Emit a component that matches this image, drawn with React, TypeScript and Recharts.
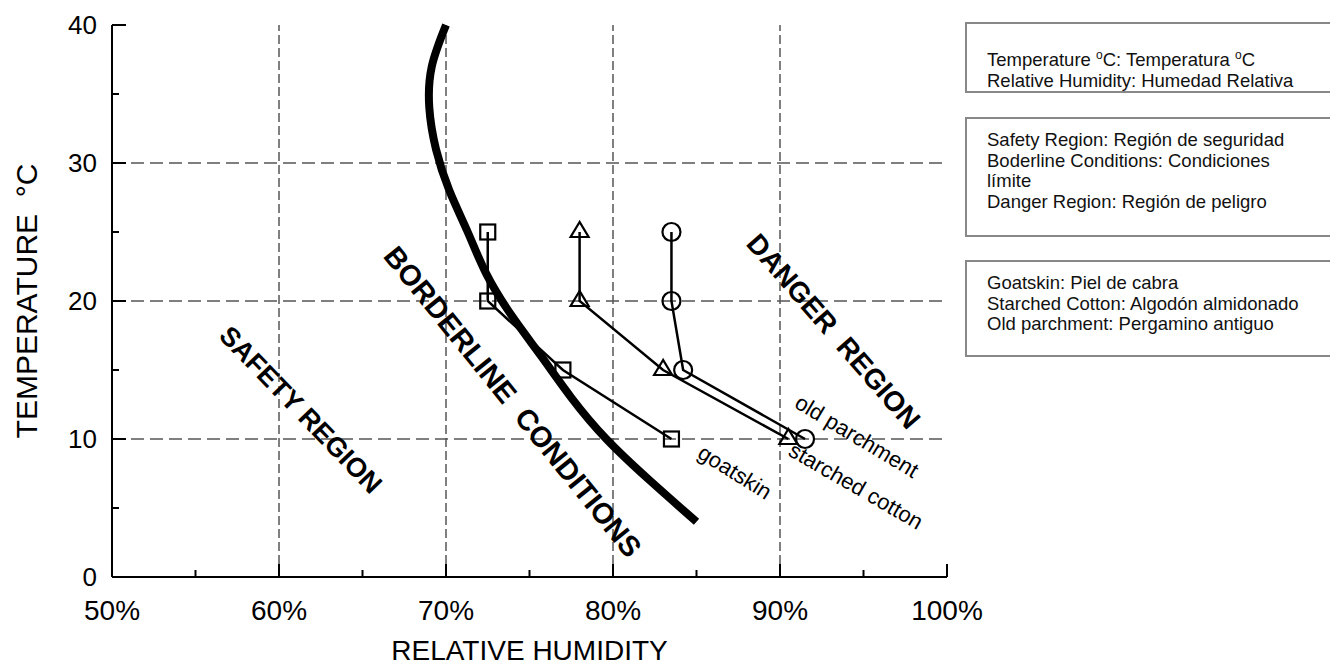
import React from 'react';
import { LineChart, Line, XAxis, YAxis, ReferenceLine, ReferenceDot } from 'recharts';

const FONT = '"Liberation Sans", Arial, Helvetica, sans-serif';

// boundary between borderline conditions and danger region (humidity % vs temperature °C), top to bottom
const boundaryHumidity = [70.0, 69.15, 69.0, 69.4, 70.2, 71.3, 72.4, 73.9, 75.7, 77.5, 79.6, 82.2, 85.0];
const boundaryTemp = [40, 37, 34, 31, 28, 25, 22, 19, 16, 13, 10, 7, 4];

const goatskinHumidity = [72.5, 72.5, 77, 83.5];
const goatskinTemp = [25, 20, 15, 10];

const cottonHumidity = [78, 78, 83, 90.5];
const cottonTemp = [25, 20, 15, 10];

const parchmentHumidity = [83.5, 83.5, 84.2, 91.5];
const parchmentTemp = [25, 20, 15, 10];

const xTicks = [50, 55, 60, 65, 70, 75, 80, 85, 90, 95, 100];
const yTicks = [0, 5, 10, 15, 20, 25, 30, 35, 40];
const gridX = [60, 70, 80, 90];
const gridY = [10, 20, 30];

// text written on the plot, anchored in data units
const annotations = [
  { text: 'SAFETY REGION', h: 61.3, t: 12.1, angle: 46, size: 27, bold: true },
  { text: 'BORDERLINE  CONDITIONS', h: 74.0, t: 12.7, angle: 51, size: 29, bold: true },
  { text: 'DANGER  REGION', h: 93.2, t: 17.8, angle: 49, size: 28, bold: true },
  { text: 'old parchment', h: 94.6, t: 10.2, angle: 31, size: 22, bold: false },
  { text: 'starched cotton', h: 94.55, t: 6.6, angle: 30, size: 22, bold: false },
  { text: 'goatskin', h: 87.3, t: 7.6, angle: 32, size: 22, bold: false },
];

const zip = (hs: number[], ts: number[]) => hs.map((h, i) => ({ h, t: ts[i] }));

const boundaryData = zip(boundaryHumidity, boundaryTemp);
const goatskinData = zip(goatskinHumidity, goatskinTemp);
const cottonData = zip(cottonHumidity, cottonTemp);
const parchmentData = zip(parchmentHumidity, parchmentTemp);

const BottomTick = ({ x, y, payload }: any) => {
  const major = payload.value % 10 === 0;
  return (
    <g>
      <line x1={x} y1={y} x2={x} y2={y - (major ? 13 : 7)} stroke="#000" strokeWidth={2} />
      {major && (
        <text x={x} y={y + 43} textAnchor="middle" fontSize={28} fontFamily={FONT} fill="#000">
          {payload.value}%
        </text>
      )}
    </g>
  );
};

const TopTick = ({ x, y, payload }: any) => {
  const major = payload.value % 10 === 0;
  return <line x1={x} y1={y} x2={x} y2={y + (major ? 13 : 7)} stroke="#000" strokeWidth={2} />;
};

const LeftTick = ({ x, y, payload }: any) => {
  const major = payload.value % 10 === 0;
  return (
    <g>
      <line x1={x} y1={y} x2={x + (major ? 14 : 7)} y2={y} stroke="#000" strokeWidth={2} />
      {major && (
        <text x={x - 15} y={y} dy="0.36em" textAnchor="end" fontSize={26} fontFamily={FONT} fill="#000">
          {payload.value}
        </text>
      )}
    </g>
  );
};

const RightTick = ({ x, y, payload }: any) => {
  const major = payload.value % 10 === 0;
  return <line x1={x} y1={y} x2={x - (major ? 14 : 7)} y2={y} stroke="#000" strokeWidth={2} />;
};

const square = (props: any) => (
  <rect key={props.index} x={props.cx - 7.5} y={props.cy - 7.5} width={15} height={15} fill="none" stroke="#000" strokeWidth={2.2} />
);

const triangle = (props: any) => {
  const { cx, cy } = props;
  return (
    <polygon
      key={props.index}
      points={`${cx},${cy - 10} ${cx - 9},${cy + 5} ${cx + 9},${cy + 5}`}
      fill="none"
      stroke="#000"
      strokeWidth={2.2}
    />
  );
};

const circle = (props: any) => (
  <circle key={props.index} cx={props.cx} cy={props.cy} r={9} fill="none" stroke="#000" strokeWidth={2.2} />
);

const rotatedText = (a: typeof annotations[number]) => (props: any) => {
  const vb = props.viewBox;
  const cx = vb.x + vb.width / 2;
  const cy = vb.y + vb.height / 2;
  return (
    <text
      x={cx}
      y={cy}
      transform={`rotate(${a.angle} ${cx} ${cy})`}
      textAnchor="middle"
      dominantBaseline="central"
      fontSize={a.size}
      fontWeight={a.bold ? 'bold' : 'normal'}
      fontFamily={FONT}
      fill="#000"
      style={{ whiteSpace: 'pre' }}
    >
      {a.text}
    </text>
  );
};

const boxStyle: React.CSSProperties = {
  position: 'absolute',
  left: 965,
  width: 420,
  boxSizing: 'border-box',
  border: '2px solid #888',
  paddingLeft: 20,
  fontSize: 18.5,
  lineHeight: '20.5px',
  color: '#111',
  whiteSpace: 'nowrap',
};

const sup = <sup style={{ fontSize: 12, verticalAlign: 7 }}>o</sup>;

export default function App() {
  return (
    <div
      style={{
        position: 'absolute',
        left: 0,
        top: 0,
        width: 1330,
        height: 668,
        overflow: 'hidden',
        background: '#fff',
        fontFamily: FONT,
      }}
    >
      <LineChart width={1000} height={668} margin={{ top: 25, right: 53, bottom: 0, left: 0 }}>
        <XAxis
          xAxisId={0}
          type="number"
          dataKey="h"
          domain={[50, 100]}
          ticks={xTicks}
          interval={0}
          height={91}
          tickSize={0}
          tickMargin={0}
          tickLine={false}
          axisLine={{ stroke: '#000', strokeWidth: 2 }}
          tick={<BottomTick />}
          label={{ value: 'RELATIVE HUMIDITY', position: 'insideBottom', offset: 8, fontSize: 28, fill: '#000', fontFamily: FONT }}
        />
        <XAxis
          xAxisId="top"
          orientation="top"
          type="number"
          dataKey="h"
          domain={[50, 100]}
          ticks={xTicks}
          interval={0}
          height={0}
          tickSize={0}
          tickMargin={0}
          tickLine={false}
          axisLine={{ stroke: '#000', strokeWidth: 2 }}
          tick={<TopTick />}
        />
        <YAxis
          yAxisId={0}
          type="number"
          domain={[0, 40]}
          ticks={yTicks}
          interval={0}
          width={112}
          tickSize={0}
          tickMargin={0}
          tickLine={false}
          axisLine={{ stroke: '#000', strokeWidth: 2 }}
          tick={<LeftTick />}
        />
        <YAxis
          yAxisId="right"
          orientation="right"
          type="number"
          domain={[0, 40]}
          ticks={yTicks}
          interval={0}
          width={0}
          tickSize={0}
          tickMargin={0}
          tickLine={false}
          axisLine={{ stroke: '#000', strokeWidth: 2 }}
          tick={<RightTick />}
        />

        {gridX.map(v => (
          <ReferenceLine key={`gx${v}`} x={v} stroke="#000" strokeWidth={1} strokeDasharray="9 4" />
        ))}
        {gridY.map(v => (
          <ReferenceLine key={`gy${v}`} y={v} stroke="#555" strokeWidth={1.5} strokeDasharray="13 6" />
        ))}

        <Line data={goatskinData} dataKey="t" type="linear" stroke="#000" strokeWidth={2.5} dot={square} activeDot={false} isAnimationActive={false} />
        <Line data={cottonData} dataKey="t" type="linear" stroke="#000" strokeWidth={2.5} dot={triangle} activeDot={false} isAnimationActive={false} />
        <Line data={parchmentData} dataKey="t" type="linear" stroke="#000" strokeWidth={2.5} dot={circle} activeDot={false} isAnimationActive={false} />
        <Line data={boundaryData} dataKey="t" type="natural" stroke="#000" strokeWidth={8} dot={false} activeDot={false} isAnimationActive={false} />

        {annotations.map(a => (
          <ReferenceDot
            key={a.text}
            x={a.h}
            y={a.t}
            r={1}
            fill="none"
            stroke="none"
            label={{ content: rotatedText(a) }}
          />
        ))}
      </LineChart>

      <div
        style={{
          position: 'absolute',
          left: 27,
          top: 301,
          transform: 'translate(-50%, -50%) rotate(-90deg)',
          fontSize: 30,
          whiteSpace: 'pre',
          color: '#000',
        }}
      >
        TEMPERATURE  °C
      </div>

      <div style={{ ...boxStyle, top: 22, height: 71, paddingTop: 21 }}>
        <div>Temperature {sup}C: Temperatura {sup}C</div>
        <div>Relative Humidity: Humedad Relativa</div>
      </div>
      <div style={{ ...boxStyle, top: 117, height: 120, paddingTop: 11 }}>
        <div>Safety Region: Región de seguridad</div>
        <div>Boderline Conditions: Condiciones</div>
        <div>límite</div>
        <div>Danger Region: Región de peligro</div>
      </div>
      <div style={{ ...boxStyle, top: 260, height: 97, paddingTop: 11 }}>
        <div>Goatskin: Piel de cabra</div>
        <div>Starched Cotton: Algodón almidonado</div>
        <div>Old parchment: Pergamino antiguo</div>
      </div>
    </div>
  );
}
